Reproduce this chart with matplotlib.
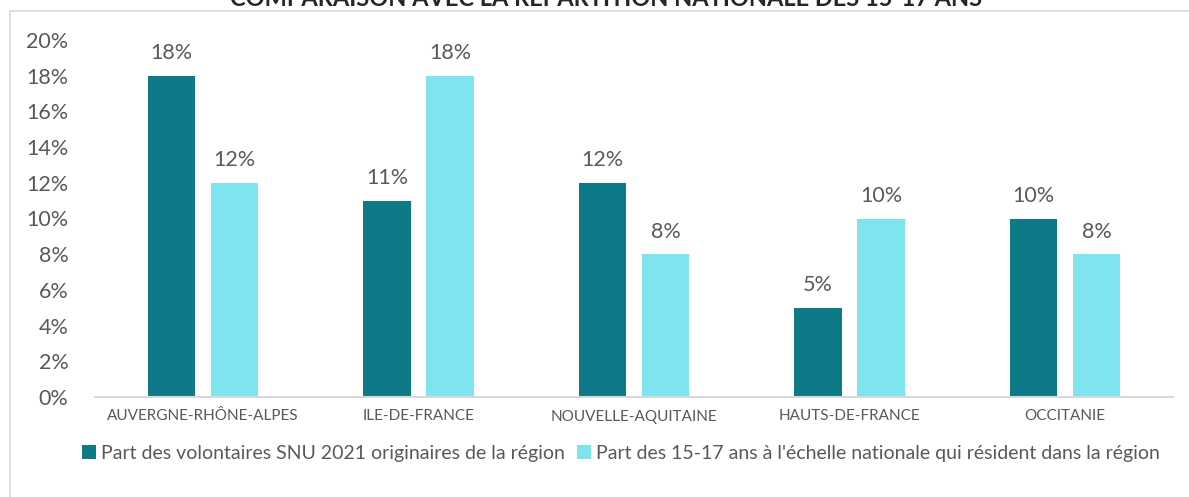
import matplotlib.pyplot as plt
from matplotlib.lines import Line2D
import numpy as np

regions = ["AUVERGNE-RHÔNE-ALPES", "ILE-DE-FRANCE", "NOUVELLE-AQUITAINE",
           "HAUTS-DE-FRANCE", "OCCITANIE"]
snu_2021 = [18, 11, 12, 5, 10]
national_15_17 = [12, 18, 8, 10, 8]
series_labels = ["Part des volontaires SNU 2021 originaires de la région",
                 "Part des 15-17 ans à l'échelle nationale qui résident dans la région"]
y_ticks = [0, 2, 4, 6, 8, 10, 12, 14, 16, 18, 20]
title = "COMPARAISON AVEC LA RÉPARTITION NATIONALE DES 15-17 ANS"

plt.rcParams['font.family'] = ['Lato', 'DejaVu Sans']
text_grey = "#595959"
dark = "#0F7A87"
light = "#7EE4F0"

W, H = 1189, 497
fig = plt.figure(figsize=(W / 100, H / 100), dpi=100)
ax = fig.add_axes([95 / W, 1 - 397 / H, 1078 / W, 357 / H])

x = np.arange(len(regions))
width = 0.22
off = 0.146
b1 = ax.bar(x - off, snu_2021, width, color=dark, label=series_labels[0])
b2 = ax.bar(x + off, national_15_17, width, color=light, label=series_labels[1])

for bars in (b1, b2):
    for rect in bars:
        h = rect.get_height()
        ax.annotate(f"{h:g}%", (rect.get_x() + rect.get_width() / 2, h),
                    xytext=(0, 9), textcoords="offset points",
                    ha="center", va="bottom", fontsize=15.5, color=text_grey)

ax.set_xlim(-0.5, len(regions) - 0.5)
ax.set_ylim(0, 20)
ax.set_yticks(y_ticks)
ax.set_yticklabels([f"{t}%" for t in y_ticks], fontsize=15.5, color=text_grey)
ax.set_xticks(x)
ax.set_xticklabels(regions, fontsize=11, color=text_grey)
ax.tick_params(axis="both", length=0)
ax.tick_params(axis="y", pad=19)
ax.tick_params(axis="x", pad=9)
for side in ("top", "right", "left"):
    ax.spines[side].set_visible(False)
ax.spines["bottom"].set_color("#D9D9D9")
ax.spines["bottom"].set_linewidth(1.5)

fig.legend(handles=[b1, b2], labels=series_labels, loc="center left",
           bbox_to_anchor=(82 / W, 1 - 453 / H), ncol=2, frameon=False,
           fontsize=14, labelcolor=text_grey, handlelength=0.7,
           handleheight=0.7, handletextpad=0.3, columnspacing=0.6,
           borderpad=0, borderaxespad=0)

fig.text(0.51, 1 - 6 / H, title, ha="center", va="baseline",
         fontsize=17, fontweight="bold", color="#262626")

# cadre gris autour du graphique
fig.add_artist(Line2D([9.5 / W, 9.5 / W], [0, 1 - 11 / H], color="#D9D9D9",
                      lw=1.2, transform=fig.transFigure))
fig.add_artist(Line2D([9.5 / W, 1], [1 - 11 / H, 1 - 11 / H], color="#D9D9D9",
                      lw=1.2, transform=fig.transFigure))

fig.savefig("out.png", dpi=100)
